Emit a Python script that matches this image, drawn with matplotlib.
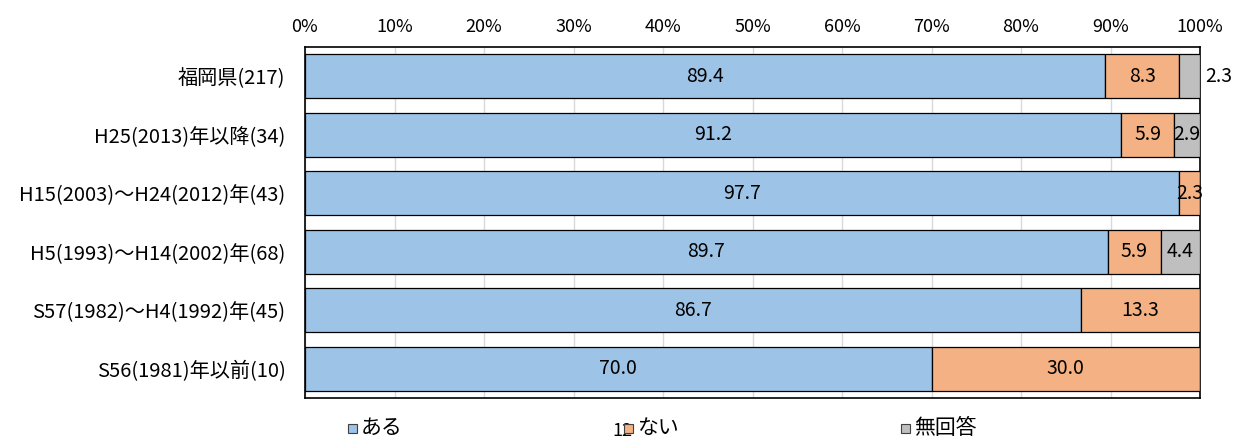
import numpy as np
import matplotlib.pyplot as plt
from matplotlib.patches import Rectangle

plt.rcParams['font.family'] = ['Noto Sans CJK JP', 'DejaVu Sans']

categories = ['福岡県(217)', 'H25(2013)年以降(34)', 'H15(2003)～H24(2012)年(43)',
              'H5(1993)～H14(2002)年(68)', 'S57(1982)～H4(1992)年(45)', 'S56(1981)年以前(10)']
aru = [89.4, 91.2, 97.7, 89.7, 86.7, 70.0]
nai = [8.3, 5.9, 2.3, 5.9, 13.3, 30.0]
mukaitou = [2.3, 2.9, 0.0, 4.4, 0.0, 0.0]
series_names = ['ある', 'ない', '無回答']
colors = ['#9DC3E6', '#F4B183', '#BFBFBF']

W, H = 1243, 441
fig = plt.figure(figsize=(W / 100, H / 100), dpi=100)
ax = fig.add_axes([305 / W, 1 - 398 / H, 895 / W, 351 / H])

y = np.arange(len(categories))
left = np.zeros(len(categories))
for vals, c in zip([aru, nai, mukaitou], colors):
    vals = np.array(vals)
    ax.barh(y, vals, left=left, height=0.76, color=c, edgecolor='black', linewidth=0.9, zorder=3)
    for i, v in enumerate(vals):
        if v <= 0:
            continue
        if c == colors[2] and i == 0:
            # small segment on the top row: label sits outside the frame
            ax.text(100.6, i, f'{v:.1f}', ha='left', va='center', fontsize=14, clip_on=False)
        else:
            ax.text(left[i] + v / 2, i, f'{v:.1f}', ha='center', va='center', fontsize=14, zorder=4)
    left += vals

ax.set_xlim(0, 100)
ax.set_ylim(len(categories) - 0.5, -0.5)
ax.set_xticks(np.arange(0, 101, 10))
ax.set_xticklabels([f'{t}%' for t in range(0, 101, 10)], fontsize=13)
ax.xaxis.tick_top()
ax.tick_params(axis='x', length=0, pad=8)
ax.set_yticks(y)
ax.set_yticklabels(categories, fontsize=14.5)
ax.tick_params(axis='y', length=0, pad=14)
ax.grid(axis='x', color='#D9D9D9', linewidth=1, zorder=0)
for s in ax.spines.values():
    s.set_color('black')
    s.set_linewidth(1.2)

# page number sits under the legend row
fig.text(622 / W, 1 / H, '12', ha='center', va='bottom', fontsize=13, zorder=1)

# legend: small square swatch followed by the label
legend_x = [348, 624, 901]
for name, c, lx in zip(series_names, colors, legend_x):
    fig.add_artist(Rectangle((lx / W, 1 - 433 / H), 9 / W, 9 / H, transform=fig.transFigure,
                             facecolor=c, edgecolor='#404040', linewidth=0.8, zorder=3))
    fig.text((lx + 13) / W, 1 - 428 / H, name, ha='left', va='center', fontsize=15, zorder=3)

fig.savefig('out.png', dpi=100)
